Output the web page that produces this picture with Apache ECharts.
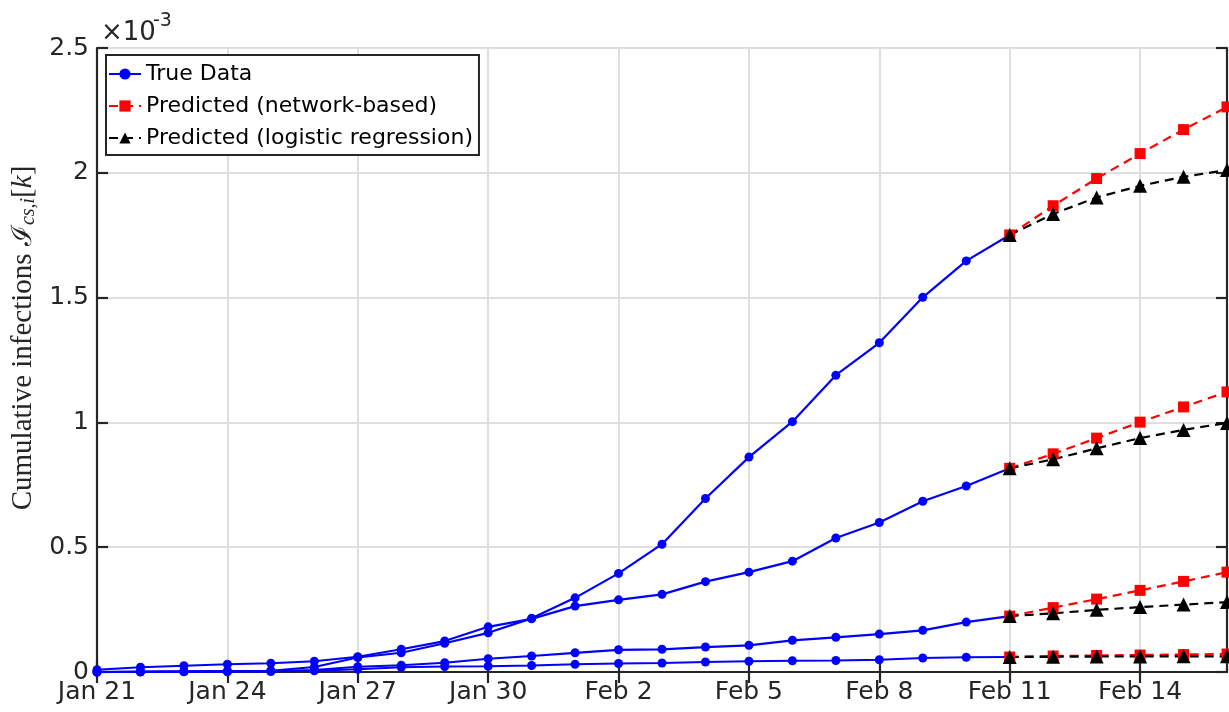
<!DOCTYPE html>
<html>
<head>
<meta charset="utf-8">
<script src="https://cdn.jsdelivr.net/npm/echarts@6/dist/echarts.min.js"></script>
<style>html,body{margin:0;padding:0;background:#fff}#c{width:1229px;height:712px}</style>
</head>
<body>
<div id="c"></div>
<script>
// Dates (x categories)
const dates = ['Jan 21','Jan 22','Jan 23','Jan 24','Jan 25','Jan 26','Jan 27','Jan 28','Jan 29','Jan 30','Jan 31','Feb 1','Feb 2','Feb 3','Feb 4','Feb 5','Feb 6','Feb 7','Feb 8','Feb 9','Feb 10','Feb 11','Feb 12','Feb 13','Feb 14','Feb 15','Feb 16'];
// Values in units of 1e-3
// True data, Jan 21 .. Feb 11
const trueA = [0.000,0.002,0.003,0.004,0.005,0.020,0.058,0.077,0.115,0.157,0.215,0.297,0.395,0.512,0.695,0.861,1.003,1.189,1.319,1.501,1.647,1.751];
const trueB = [0.009,0.019,0.025,0.031,0.035,0.043,0.061,0.091,0.124,0.181,0.213,0.264,0.289,0.311,0.362,0.400,0.444,0.537,0.599,0.684,0.745,0.816];
const trueC = [0.000,0.001,0.002,0.003,0.004,0.008,0.021,0.027,0.037,0.053,0.064,0.077,0.089,0.091,0.100,0.107,0.127,0.139,0.152,0.167,0.200,0.224];
const trueD = [0.000,0.000,0.001,0.001,0.002,0.005,0.011,0.019,0.022,0.023,0.026,0.031,0.034,0.036,0.040,0.043,0.045,0.046,0.049,0.056,0.059,0.060];
// Predictions, Feb 11 .. Feb 16
const netA = [1.751,1.868,1.977,2.077,2.173,2.264];
const netB = [0.816,0.874,0.937,1.001,1.062,1.122];
const netC = [0.224,0.258,0.292,0.327,0.363,0.400];
const netD = [0.060,0.064,0.066,0.068,0.070,0.072];
const logA = [1.751,1.835,1.901,1.948,1.984,2.011];
const logB = [0.816,0.852,0.896,0.937,0.970,0.998];
const logC = [0.224,0.235,0.249,0.260,0.270,0.280];
const logD = [0.060,0.061,0.062,0.062,0.063,0.063];
const predStart = dates.indexOf('Feb 11');
const yTickLabels = ['0','0.5','1','1.5','2','2.5'];

const names = ['True Data','Predicted (network-based)','Predicted (logistic regression)'];
const pad = arr => new Array(predStart).fill(null).concat(arr);

const axisColor = '#262626';
const font = 'DejaVu Sans';

function trueSeries(d){
  return {name:names[0], type:'line', data:d, color:'#0000ff', symbol:'circle', symbolSize:9,
    showAllSymbol:true, lineStyle:{width:2.2, color:'#0000ff'}, itemStyle:{color:'#0000ff'}};
}
function netSeries(d){
  return {name:names[1], type:'line', data:pad(d), color:'#ff0000', symbol:'rect', symbolSize:11,
    showAllSymbol:true, lineStyle:{width:2.2, color:'#ff0000', type:[9,6]}, itemStyle:{color:'#ff0000'}};
}
function logSeries(d){
  return {name:names[2], type:'line', data:pad(d), color:'#000000', symbol:'triangle', symbolSize:14,
    showAllSymbol:true, lineStyle:{width:2.2, color:'#000000', type:[9,6]}, itemStyle:{color:'#000000'}};
}

const chart = echarts.init(document.getElementById('c'), null, {renderer:'canvas'});
chart.setOption({
  animation:false,
  backgroundColor:'#ffffff',
  grid:{left:97, right:2, top:48, bottom:40},
  legend:{
    data:names, orient:'vertical', left:106, top:55,
    backgroundColor:'#ffffff', borderColor:axisColor, borderWidth:2,
    padding:[7,6,5,2], itemGap:8, itemWidth:32, itemHeight:14,
    textStyle:{fontFamily:font, fontSize:22, color:'#000', lineHeight:24}
  },
  xAxis:[{
    type:'category', data:dates, boundaryGap:false,
    axisLine:{lineStyle:{color:axisColor, width:2.2}},
    axisTick:{inside:true, length:11, interval:2, lineStyle:{color:axisColor, width:2.2}},
    axisLabel:{interval:2, margin:8, fontFamily:font, fontSize:25, color:axisColor},
    splitLine:{show:true, interval:2, lineStyle:{color:'#dfdfdf', width:2}}
  },{
    type:'category', data:dates, boundaryGap:false, position:'top',
    axisLine:{lineStyle:{color:axisColor, width:2.2}},
    axisTick:{inside:true, length:11, interval:2, lineStyle:{color:axisColor, width:2.2}},
    axisLabel:{show:false}, splitLine:{show:false}
  }],
  yAxis:[{
    type:'value', min:0, max:2.5, interval:0.5,
    axisLine:{show:true, lineStyle:{color:axisColor, width:2.2}},
    axisTick:{show:true, inside:true, length:11, lineStyle:{color:axisColor, width:2.2}},
    axisLabel:{margin:8, fontFamily:font, fontSize:25, color:axisColor,
      formatter:(v)=>yTickLabels[Math.round(v/0.5)]},
    splitLine:{show:true, lineStyle:{color:'#dfdfdf', width:2}},
    name:'{a|Cumulative infections }{b|ℐ}{s|cs,i}{a|[}{k|k}{a|]}',
    nameLocation:'middle', nameGap:55, nameRotate:90,
    nameTextStyle:{color:axisColor, fontFamily:'Liberation Serif', fontSize:29, padding:[0,0,0,44],
      rich:{
        a:{fontFamily:'Liberation Serif', fontSize:29, color:axisColor},
        b:{fontFamily:'DejaVu Serif', fontSize:28, color:axisColor},
        s:{fontFamily:'Liberation Serif', fontStyle:'italic', fontSize:20, color:axisColor, verticalAlign:'bottom', padding:[10,0,0,0]},
        k:{fontFamily:'Liberation Serif', fontStyle:'italic', fontSize:29, color:axisColor}
      }}
  },{
    type:'value', min:0, max:2.5, interval:0.5, position:'right',
    axisLine:{show:true, lineStyle:{color:axisColor, width:2.2}},
    axisTick:{show:true, inside:true, length:11, lineStyle:{color:axisColor, width:2.2}},
    axisLabel:{show:false}, splitLine:{show:false}
  }],
  graphic:[
    {type:'text', x:101, y:33, style:{text:'×10', font:'26px "DejaVu Sans"', fill:axisColor, align:'left', verticalAlign:'middle'}},
    {type:'text', x:153, y:21, style:{text:'-3', font:'19px "DejaVu Sans"', fill:axisColor, align:'left', verticalAlign:'middle'}}
  ],
  series:[
    trueSeries(trueA), trueSeries(trueB), trueSeries(trueC), trueSeries(trueD),
    netSeries(netA), netSeries(netB), netSeries(netC), netSeries(netD),
    logSeries(logA), logSeries(logB), logSeries(logC), logSeries(logD)
  ]
});
</script>
</body>
</html>
